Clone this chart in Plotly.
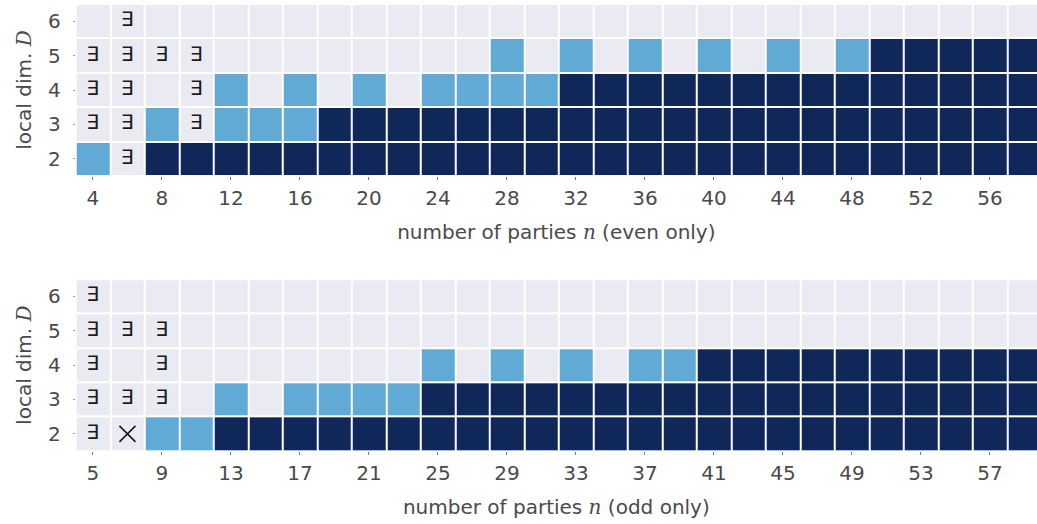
import plotly.graph_objects as go

# ---------------- data ----------------
n_even = [4, 6, 8, 10, 12, 14, 16, 18, 20, 22, 24, 26, 28, 30,
          32, 34, 36, 38, 40, 42, 44, 46, 48, 50, 52, 54, 56, 58]
n_odd = [5, 7, 9, 11, 13, 15, 17, 19, 21, 23, 25, 27, 29, 31,
         33, 35, 37, 39, 41, 43, 45, 47, 49, 51, 53, 55, 57, 59]
D_vals = [2, 3, 4, 5, 6]

# status codes: 0 = none, 1 = partial (light), 2 = full (dark)
even_D2 = [1, 0, 2, 2, 2, 2, 2, 2, 2, 2, 2, 2, 2, 2, 2, 2, 2, 2, 2, 2, 2, 2, 2, 2, 2, 2, 2, 2]
even_D3 = [0, 0, 1, 0, 1, 1, 1, 2, 2, 2, 2, 2, 2, 2, 2, 2, 2, 2, 2, 2, 2, 2, 2, 2, 2, 2, 2, 2]
even_D4 = [0, 0, 0, 0, 1, 0, 1, 0, 1, 0, 1, 1, 1, 1, 2, 2, 2, 2, 2, 2, 2, 2, 2, 2, 2, 2, 2, 2]
even_D5 = [0, 0, 0, 0, 0, 0, 0, 0, 0, 0, 0, 0, 1, 0, 1, 0, 1, 0, 1, 0, 1, 0, 1, 2, 2, 2, 2, 2]
even_D6 = [0, 0, 0, 0, 0, 0, 0, 0, 0, 0, 0, 0, 0, 0, 0, 0, 0, 0, 0, 0, 0, 0, 0, 0, 0, 0, 0, 0]

odd_D2 = [0, 0, 1, 1, 2, 2, 2, 2, 2, 2, 2, 2, 2, 2, 2, 2, 2, 2, 2, 2, 2, 2, 2, 2, 2, 2, 2, 2]
odd_D3 = [0, 0, 0, 0, 1, 0, 1, 1, 1, 1, 2, 2, 2, 2, 2, 2, 2, 2, 2, 2, 2, 2, 2, 2, 2, 2, 2, 2]
odd_D4 = [0, 0, 0, 0, 0, 0, 0, 0, 0, 0, 1, 0, 1, 0, 1, 0, 1, 1, 2, 2, 2, 2, 2, 2, 2, 2, 2, 2]
odd_D5 = [0, 0, 0, 0, 0, 0, 0, 0, 0, 0, 0, 0, 0, 0, 0, 0, 0, 0, 0, 0, 0, 0, 0, 0, 0, 0, 0, 0]
odd_D6 = [0, 0, 0, 0, 0, 0, 0, 0, 0, 0, 0, 0, 0, 0, 0, 0, 0, 0, 0, 0, 0, 0, 0, 0, 0, 0, 0, 0]

# "exists" markers (n, D)
exists_even_n = [6, 4, 6, 10, 4, 6, 10, 4, 6, 8, 10, 6]
exists_even_D = [2, 3, 3, 3, 4, 4, 4, 5, 5, 5, 5, 6]
exists_odd_n = [5, 5, 7, 9, 5, 9, 5, 7, 9, 5]
exists_odd_D = [2, 3, 3, 3, 4, 4, 5, 5, 5, 6]
# "impossible" markers (n, D)
none_odd_n = [7]
none_odd_D = [2]

x_ticks_even = n_even[::2]
x_ticks_odd = n_odd[::2]

# ---------------- style ----------------
BG = "#EAEAF2"
LIGHT = "#61AAD6"
DARK = "#10275A"
TXT = "#4a4a4a"
FONT = "DejaVu Sans"
FS = 20
colorscale = [[0, BG], [0.3333, BG], [0.3333, LIGHT], [0.6667, LIGHT],
              [0.6667, DARK], [1, DARK]]

fig = go.Figure()

fig.add_trace(go.Heatmap(
    x=n_even, y=D_vals, z=[even_D2, even_D3, even_D4, even_D5, even_D6],
    zmin=0, zmax=2, colorscale=colorscale, showscale=False,
    xgap=2, ygap=2, hoverinfo="skip", xaxis="x", yaxis="y"))
fig.add_trace(go.Heatmap(
    x=n_odd, y=D_vals, z=[odd_D2, odd_D3, odd_D4, odd_D5, odd_D6],
    zmin=0, zmax=2, colorscale=colorscale, showscale=False,
    xgap=2, ygap=2, hoverinfo="skip", xaxis="x2", yaxis="y2"))

fig.add_trace(go.Scatter(
    x=exists_even_n, y=exists_even_D, mode="text", text=["∃"] * len(exists_even_n),
    textfont=dict(family=FONT, size=FS, color="#1a1a1a"),
    hoverinfo="skip", showlegend=False, xaxis="x", yaxis="y"))
fig.add_trace(go.Scatter(
    x=exists_odd_n, y=exists_odd_D, mode="text", text=["∃"] * len(exists_odd_n),
    textfont=dict(family=FONT, size=FS, color="#1a1a1a"),
    hoverinfo="skip", showlegend=False, xaxis="x2", yaxis="y2"))
fig.add_trace(go.Scatter(
    x=none_odd_n, y=none_odd_D, mode="markers",
    marker=dict(symbol="x-thin", size=16, line=dict(width=1.6, color="#1a1a1a")),
    hoverinfo="skip", showlegend=False, xaxis="x2", yaxis="y2"))

ital = "<span style='font-family:\"DejaVu Serif\";font-style:italic'>{}</span>"

x_dom = [75.7 / 1037, 1.0]
col_w = 34.5
x_span = 2 * (1037 - 75.7) / col_w

common_x = dict(
    showgrid=False, zeroline=False, showline=False, automargin=False,
    ticks="outside", ticklen=3, tickwidth=1, tickcolor="#777",
    tickfont=dict(family=FONT, size=FS, color=TXT),
    ticklabelstandoff=1,
)
common_y = dict(
    showgrid=False, zeroline=False, showline=False, automargin=False,
    ticks="outside", ticklen=2, tickwidth=1, tickcolor="#999",
    tickfont=dict(family=FONT, size=FS, color=TXT),
    tickvals=D_vals, range=[1.5, 6.5],
    ticklabelstandoff=8,
)

fig.update_layout(
    width=1037, height=524,
    margin=dict(l=0, r=0, t=0, b=0, autoexpand=False),
    paper_bgcolor="white", plot_bgcolor="white",
    showlegend=False,
    xaxis=dict(common_x, domain=x_dom, anchor="y",
               range=[n_even[0] - 1, n_even[0] - 1 + x_span],
               tickvals=x_ticks_even,
               title=dict(text="number of parties " + ital.format("n") + " (even only)",
                          font=dict(family=FONT, size=FS, color=TXT), standoff=15)),
    yaxis=dict(common_y, domain=[1 - 176 / 524, 1 - 4 / 524], anchor="x",
               title=dict(text="local dim. " + ital.format("D"),
                          font=dict(family=FONT, size=FS, color=TXT), standoff=10)),
    xaxis2=dict(common_x, domain=x_dom, anchor="y2",
                range=[n_odd[0] - 1, n_odd[0] - 1 + x_span],
                tickvals=x_ticks_odd,
                title=dict(text="number of parties " + ital.format("n") + " (odd only)",
                           font=dict(family=FONT, size=FS, color=TXT), standoff=15)),
    yaxis2=dict(common_y, domain=[1 - 451 / 524, 1 - 279.3 / 524], anchor="x2",
                title=dict(text="local dim. " + ital.format("D"),
                           font=dict(family=FONT, size=FS, color=TXT), standoff=10)),
)

fig.write_html("out.html", config={"displayModeBar": False},
               post_script="document.body.style.margin='0px';")
